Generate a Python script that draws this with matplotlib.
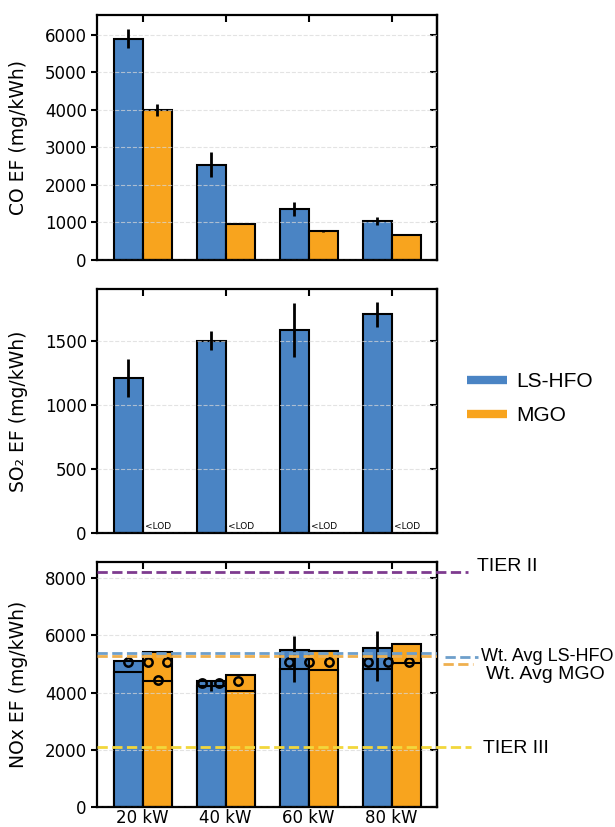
import matplotlib.pyplot as plt
import matplotlib.transforms as mtransforms
from matplotlib.lines import Line2D
import numpy as np

# data
loads = ["20 kW", "40 kW", "60 kW", "80 kW"]

co_hfo = [5900, 2540, 1360, 1030]
co_hfo_err = [260, 340, 180, 110]
co_mgo = [4000, 950, 770, 660]
co_mgo_err = [150, 0, 30, 0]

so2_hfo = [1210, 1500, 1585, 1705]
so2_hfo_err = [150, 72, 212, 98]

nox_hfo = [5100, 4400, 5475, 5555]
nox_hfo_low = [4720, 4220, 4835, 4835]
nox_hfo_err_lo = [0, 350, 1105, 1165]
nox_hfo_err_hi = [0, 0, 500, 595]
nox_mgo = [5400, 4600, 5440, 5710]
nox_mgo_low = [4400, 4050, 4790, 5040]

# individual points (group index, offset from group centre, value)
pts_group = [0, 0, 0, 0, 1, 1, 1, 2, 2, 2, 3, 3, 3]
pts_offset = [-0.18, 0.06, 0.29, 0.18, -0.29, -0.08, 0.15, -0.24, 0.0, 0.25, -0.28, -0.04, 0.21]
pts_value = [5060, 5080, 5080, 4450, 4330, 4330, 4390, 5080, 5080, 5080, 5080, 5080, 5080]

tier2 = 8200
tier3 = 2100
avg_hfo = 5380
avg_mgo = 5280

# 颜色
c_hfo = "#4A84C4"
c_mgo = "#F8A41E"
c_tier2 = "#7E3B8F"
c_tier3 = "#F2D73C"
c_avg_hfo = "#6E9FCB"
c_avg_mgo = "#EFB04F"

bar_w = 0.35
x = np.arange(len(loads))

fig = plt.figure(figsize=(6.15, 8.27), dpi=100)
ax1 = fig.add_axes([0.158, 0.6856, 0.553, 0.2963])
ax2 = fig.add_axes([0.158, 0.3551, 0.553, 0.2950])
ax3 = fig.add_axes([0.158, 0.0242, 0.553, 0.2962])


def style(ax, yticks, ylim, ylabel):
    ax.set_xlim(-0.55, 3.55)
    ax.set_ylim(0, ylim)
    ax.set_yticks(yticks)
    ax.set_xticks(x)
    # left ticks point out, top / right ticks point in
    ax.tick_params(axis="y", direction="out", length=4, width=1.5, labelsize=12)
    ax.tick_params(axis="x", direction="in", top=True, length=5, width=1.5,
                   labelsize=12, pad=1.5)
    sec = ax.secondary_yaxis("right")
    sec.set_yticks(yticks)
    sec.tick_params(direction="in", length=5, width=1.5, labelright=False)
    sec.spines["right"].set_linewidth(1.6)
    for s in ax.spines.values():
        s.set_linewidth(1.6)
    ax.yaxis.grid(True, color="#d8d8d8", linestyle="--", linewidth=0.8, alpha=0.7)
    ax.set_axisbelow(False)
    ax.set_ylabel(ylabel, fontsize=13.5, labelpad=12)


# CO
ax1.bar(x - bar_w / 2, co_hfo, bar_w, color=c_hfo, edgecolor="black", linewidth=1.5, zorder=1)
ax1.bar(x + bar_w / 2, co_mgo, bar_w, color=c_mgo, edgecolor="black", linewidth=1.5, zorder=1)
ax1.errorbar(x - bar_w / 2, co_hfo, yerr=co_hfo_err, fmt="none", ecolor="black", elinewidth=2, zorder=3)
ax1.errorbar(x + bar_w / 2, co_mgo, yerr=co_mgo_err, fmt="none", ecolor="black", elinewidth=2, zorder=3)
style(ax1, [0, 1000, 2000, 3000, 4000, 5000, 6000], 6530, "CO EF (mg/kWh)")
ax1.set_xticklabels([])

# SO2
ax2.bar(x - bar_w / 2, so2_hfo, bar_w, color=c_hfo, edgecolor="black", linewidth=1.5, zorder=1)
ax2.errorbar(x - bar_w / 2, so2_hfo, yerr=so2_hfo_err, fmt="none", ecolor="black", elinewidth=2, zorder=3)
for xi in x:
    ax2.text(xi + 0.03, 15, "<LOD", fontsize=6.5, ha="left", va="bottom")
style(ax2, [0, 500, 1000, 1500], 1900, "SO₂ EF (mg/kWh)")
ax2.set_xticklabels([])

# NOx
ax3.bar(x - bar_w / 2, nox_hfo, bar_w, color=c_hfo, edgecolor="black", linewidth=1.5, zorder=1)
ax3.bar(x - bar_w / 2, nox_hfo_low, bar_w, color=c_hfo, edgecolor="black", linewidth=1.5, zorder=1)
ax3.bar(x + bar_w / 2, nox_mgo, bar_w, color=c_mgo, edgecolor="black", linewidth=1.5, zorder=1)
ax3.bar(x + bar_w / 2, nox_mgo_low, bar_w, color=c_mgo, edgecolor="black", linewidth=1.5, zorder=1)
px = np.array(pts_group) + np.array(pts_offset)
ax3.plot(px, pts_value, "o", ms=6, mfc="none", mec="black", mew=1.8, zorder=2)
ax3.errorbar(x - bar_w / 2, nox_hfo, yerr=[nox_hfo_err_lo, nox_hfo_err_hi], fmt="none",
             ecolor="black", elinewidth=2, zorder=3)

trans = mtransforms.blended_transform_factory(ax3.transAxes, ax3.transData)
ax3.plot([0, 1.09], [tier2, tier2], "--", color=c_tier2, lw=2, transform=trans, clip_on=False, zorder=4)
ax3.plot([0, 1.1], [tier3, tier3], "--", color=c_tier3, lw=2, transform=trans, clip_on=False, zorder=4)
ax3.axhline(avg_hfo, ls="--", color=c_avg_hfo, lw=2, zorder=4)
ax3.axhline(avg_mgo, ls="--", color=c_avg_mgo, lw=2, zorder=4)
ax3.plot([1.024, 1.12], [0.612, 0.612], "--", color=c_avg_hfo, lw=2, transform=ax3.transAxes, clip_on=False)
ax3.plot([1.018, 1.106], [0.584, 0.584], "--", color=c_avg_mgo, lw=2, transform=ax3.transAxes, clip_on=False)

lab_font = dict(fontsize=14, family="Liberation Sans", va="center", ha="left", transform=ax3.transAxes)
ax3.text(1.118, 0.981, "TIER II", **lab_font)
ax3.text(1.128, 0.613, "Wt. Avg LS-HFO", **dict(lab_font, fontsize=13))
ax3.text(1.144, 0.539, "Wt. Avg MGO", **lab_font)
ax3.text(1.135, 0.238, "TIER III", **lab_font)

style(ax3, [0, 2000, 4000, 6000, 8000], 8560, "NOx EF (mg/kWh)")
ax3.set_xticklabels(loads)

# legend
handles = [Line2D([0], [0], color=c_hfo, lw=6, solid_capstyle="butt"),
           Line2D([0], [0], color=c_mgo, lw=6, solid_capstyle="butt")]
fig.legend(handles, ["LS-HFO", "MGO"], loc="center left", bbox_to_anchor=(0.729, 0.518),
           frameon=False, handlelength=1.9, handletextpad=0.45, labelspacing=0.72,
           prop={"family": "Liberation Sans", "size": 15})

fig.savefig("out.png", dpi=100)
